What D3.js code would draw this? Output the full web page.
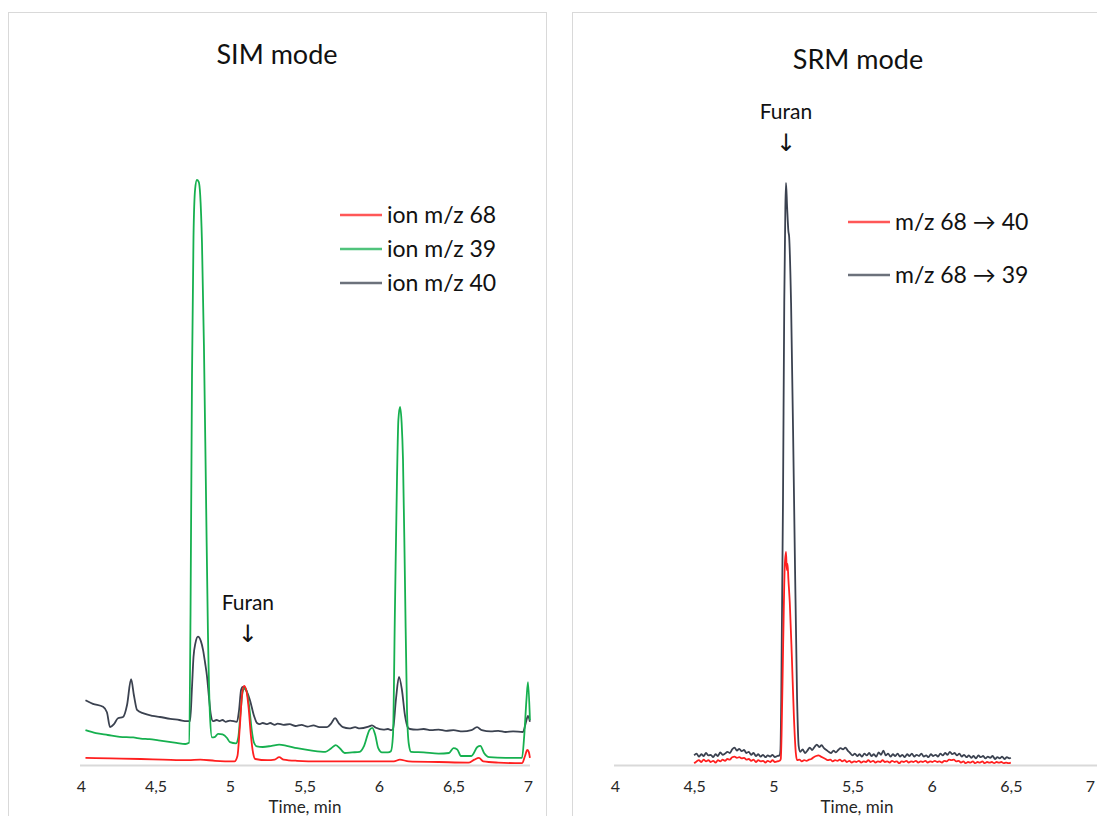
<!DOCTYPE html>
<html>
<head>
<meta charset="utf-8">
<script src="https://cdn.jsdelivr.net/npm/d3@7"></script>
<style>
  html, body { margin: 0; padding: 0; background: #fff; }
  svg { display: block; font-family: Lato, "Open Sans", sans-serif; }
</style>
</head>
<body>
<svg id="chart" width="1097" height="816"></svg>
<script>
// ---------------- DATA ----------------
const xTicks = [4, 4.5, 5, 5.5, 6, 6.5, 7];
const xTickLabels = ["4", "4,5", "5", "5,5", "6", "6,5", "7"];
const xAxisTitle = "Time, min";
const panelTitles = ["SIM mode", "SRM mode"];
const simLegend = ["ion m/z 68", "ion m/z 39", "ion m/z 40"];
const srmLegend = ["m/z 68 \u2192 40", "m/z 68 \u2192 39"];
const annotationText = "Furan";
const furanTime = [5.12, 5.08];

// SIM mode: [time (min), relative intensity]
const simIon68 = [
  [4.03,1.2],[4.20,1.1],[4.40,1.0],[4.55,0.9],[4.72,0.8],[4.80,0.9],[4.90,0.7],[5.03,0.6],
  [5.05,1.5],[5.065,6],[5.08,11.5],[5.094,13.2],[5.11,12.4],[5.125,9.5],[5.14,5],[5.155,2],
  [5.17,1.0],[5.25,0.8],[5.30,0.9],[5.33,1.3],[5.36,0.9],[5.45,0.7],[5.60,0.6],[5.80,0.6],
  [6.00,0.6],[6.10,0.6],[6.14,0.9],[6.20,0.6],[6.40,0.5],[6.60,0.4],[6.64,0.9],[6.67,1.2],
  [6.70,0.6],[6.80,0.4],[6.96,0.3],[6.98,1.5],[6.995,2.5],[7.005,2.2],[7.013,1.2]
];
const simIon39 = [
  [4.03,5.8],[4.10,5.3],[4.18,5.0],[4.26,4.7],[4.35,4.6],[4.40,4.4],[4.46,4.3],[4.52,4.1],
  [4.58,3.9],[4.64,3.7],[4.70,3.5],[4.725,3.7],[4.735,25],[4.745,65],[4.755,88],[4.766,96],
  [4.778,97.5],[4.790,97.2],[4.800,95],[4.812,87],[4.825,70],[4.839,45],[4.852,22],[4.866,8],
  [4.879,4.6],[4.90,4.7],[4.92,5.2],[4.95,5.1],[4.98,4.5],[5.00,3.8],[5.04,3.6],[5.055,4.5],
  [5.07,8.5],[5.085,12.2],[5.10,12.8],[5.115,12.0],[5.13,9.5],[5.145,6],[5.16,3.8],[5.18,3.1],
  [5.22,3.0],[5.28,3.2],[5.33,3.4],[5.38,3.2],[5.45,2.8],[5.55,2.4],[5.64,2.2],[5.68,2.8],
  [5.71,3.3],[5.74,2.7],[5.77,2.0],[5.82,2.1],[5.87,2.2],[5.90,3.2],[5.935,5.8],[5.955,6.2],
  [5.975,5.0],[5.995,2.8],[6.02,2.1],[6.06,2.1],[6.08,2.3],[6.094,5],[6.107,26],[6.121,48],
  [6.130,57.5],[6.141,59.7],[6.152,57],[6.161,51],[6.174,31],[6.188,9],[6.200,3.5],[6.215,2.2],
  [6.30,2.1],[6.40,1.9],[6.47,2.0],[6.50,2.8],[6.525,2.6],[6.55,1.5],[6.62,1.5],[6.66,3.0],
  [6.68,3.2],[6.705,2.0],[6.74,1.3],[6.85,1.2],[6.96,1.2],[6.975,5],[6.99,11],[7.00,13.8],
  [7.013,7.5]
];
const simIon40 = [
  [4.03,10.8],[4.08,10.2],[4.148,9.7],[4.174,8.8],[4.195,6.3],[4.221,6.8],[4.248,7.8],
  [4.282,8.0],[4.309,10],[4.336,14.3],[4.356,11.5],[4.376,9.2],[4.42,8.6],[4.48,8.2],
  [4.53,8.0],[4.60,7.7],[4.66,7.5],[4.711,7.3],[4.732,7.3],[4.745,13],[4.755,18],[4.768,20.3],
  [4.785,21.4],[4.805,20.6],[4.819,19.2],[4.833,17],[4.846,14.7],[4.858,11.5],[4.870,8.6],
  [4.886,7.3],[4.91,7.5],[4.93,7.3],[4.95,7.5],[4.97,7.2],[5.00,7.4],[5.047,7.2],[5.060,9],
  [5.075,12.6],[5.085,13],[5.107,12.5],[5.134,10.8],[5.161,8.2],[5.181,7.0],[5.20,6.8],
  [5.22,7.0],[5.25,6.8],[5.27,7.0],[5.30,6.7],[5.32,6.9],[5.36,6.7],[5.40,6.8],[5.44,6.5],
  [5.48,6.7],[5.52,6.4],[5.56,6.6],[5.60,6.3],[5.651,6.3],[5.678,6.9],[5.705,7.8],[5.732,6.9],
  [5.758,6.3],[5.80,6.1],[5.84,6.3],[5.87,6.1],[5.93,6.4],[5.953,6.6],[5.98,6.2],[6.03,5.9],
  [6.06,6.0],[6.08,5.8],[6.094,6.0],[6.114,11],[6.134,14.7],[6.154,12.5],[6.174,8.3],
  [6.195,6.2],[6.208,6.0],[6.25,5.9],[6.30,6.0],[6.35,5.8],[6.40,5.9],[6.45,5.7],[6.50,5.8],
  [6.56,5.6],[6.62,5.8],[6.658,6.3],[6.69,5.8],[6.75,5.6],[6.80,5.7],[6.85,5.5],[6.90,5.6],
  [6.966,5.5],[6.985,7],[7.00,8.2],[7.013,7.2]
];

// SRM mode: [time (min), relative intensity]
const srm68to40 = [
  [4.500,0.3],[4.515,0.6],[4.530,0.8],[4.545,0.5],[4.560,0.9],[4.575,0.6],[4.590,0.8],[4.605,0.5],
  [4.620,0.7],[4.635,0.4],[4.650,0.8],[4.665,0.6],[4.680,0.9],[4.695,0.7],[4.710,1.0],[4.725,0.9],
  [4.740,1.3],[4.755,1.4],[4.770,1.2],[4.785,1.3],[4.800,1.1],[4.815,1.2],[4.830,0.9],[4.845,1.0],
  [4.860,0.7],[4.875,0.9],[4.890,0.5],[4.905,0.8],[4.920,0.6],[4.935,0.7],[4.950,0.4],[4.965,0.7],
  [4.980,0.5],[4.995,0.8],[5.010,0.5],[5.025,0.6],[5.040,0.7],[5.047,1.0],[5.052,5],[5.062,20],
  [5.072,33],[5.080,35.5],[5.085,32.5],[5.090,33.5],[5.095,31],[5.104,27],[5.117,18],[5.130,8],
  [5.142,2],[5.150,0.8],[5.165,0.9],[5.180,0.6],[5.195,0.8],[5.210,0.7],[5.225,0.9],[5.240,1.0],
  [5.255,1.3],[5.270,1.5],[5.285,1.6],[5.300,1.4],[5.315,1.2],[5.330,1.0],[5.345,0.8],[5.360,0.9],
  [5.375,0.6],[5.390,0.8],[5.405,0.7],[5.420,0.9],[5.435,0.6],[5.450,0.8],[5.465,0.5],[5.480,0.7],
  [5.495,0.4],[5.510,0.6],[5.525,0.5],[5.540,0.7],[5.555,0.4],[5.570,0.6],[5.585,0.5],[5.600,0.8],
  [5.615,0.5],[5.630,0.7],[5.645,0.4],[5.660,0.6],[5.675,0.5],[5.690,0.8],[5.705,0.5],[5.720,0.6],
  [5.735,0.4],[5.750,0.7],[5.765,0.5],[5.780,0.6],[5.795,0.3],[5.810,0.6],[5.825,0.5],[5.840,0.7],
  [5.855,0.4],[5.870,0.6],[5.885,0.5],[5.900,0.7],[5.915,0.4],[5.930,0.6],[5.945,0.5],[5.960,0.7],
  [5.975,0.4],[5.990,0.6],[6.005,0.5],[6.020,0.7],[6.035,0.5],[6.050,0.6],[6.065,0.4],[6.080,0.7],
  [6.095,0.6],[6.110,0.9],[6.125,0.8],[6.140,0.9],[6.155,0.6],[6.170,0.7],[6.185,0.4],[6.200,0.6],
  [6.215,0.3],[6.230,0.5],[6.245,0.4],[6.260,0.6],[6.275,0.3],[6.290,0.5],[6.305,0.4],[6.320,0.6],
  [6.335,0.3],[6.350,0.5],[6.365,0.4],[6.380,0.5],[6.395,0.3],[6.410,0.5],[6.425,0.4],[6.440,0.5],
  [6.455,0.3],[6.470,0.4],[6.485,0.3],[6.500,0.4]
];
const srm68to39 = [
  [4.500,1.6],[4.515,1.9],[4.530,1.4],[4.545,1.8],[4.560,1.5],[4.575,2.0],[4.590,1.6],[4.605,1.7],
  [4.620,1.3],[4.635,1.8],[4.650,1.5],[4.665,2.1],[4.680,1.7],[4.695,1.9],[4.710,2.2],[4.725,2.0],
  [4.740,2.6],[4.755,2.9],[4.770,2.4],[4.785,2.7],[4.800,2.3],[4.815,2.5],[4.830,2.0],[4.845,2.2],
  [4.860,1.7],[4.875,2.0],[4.890,1.5],[4.905,1.8],[4.920,1.4],[4.935,1.7],[4.950,1.3],[4.965,1.6],
  [4.980,1.4],[4.995,1.7],[5.010,1.3],[5.025,1.5],[5.040,1.6],[5.045,2.5],[5.050,11],[5.061,44],
  [5.069,77],[5.076,93],[5.080,97],[5.087,93],[5.095,89],[5.100,88],[5.112,77],[5.131,44],
  [5.150,11],[5.160,3.2],[5.170,2.2],[5.185,2.6],[5.200,2.0],[5.215,2.4],[5.230,2.9],[5.245,2.5],
  [5.260,3.0],[5.275,3.4],[5.290,3.0],[5.305,3.3],[5.320,2.8],[5.335,2.5],[5.350,2.2],[5.365,2.0],
  [5.380,2.4],[5.395,2.1],[5.410,2.5],[5.425,2.8],[5.440,2.6],[5.455,2.9],[5.470,2.4],[5.485,2.0],
  [5.500,1.6],[5.515,1.9],[5.530,1.5],[5.545,1.8],[5.560,1.4],[5.575,1.9],[5.590,1.6],[5.605,2.0],
  [5.620,1.5],[5.635,1.8],[5.650,1.4],[5.665,2.1],[5.680,1.7],[5.695,2.4],[5.710,1.6],[5.725,1.9],
  [5.740,1.4],[5.755,1.8],[5.770,1.5],[5.785,1.9],[5.800,1.4],[5.815,1.7],[5.830,1.3],[5.845,1.8],
  [5.860,1.5],[5.875,1.9],[5.890,1.4],[5.905,1.7],[5.920,1.5],[5.935,1.9],[5.950,1.4],[5.965,1.6],
  [5.980,1.3],[5.995,1.8],[6.010,1.5],[6.025,1.7],[6.040,1.4],[6.055,1.9],[6.070,1.6],[6.085,2.0],
  [6.100,1.7],[6.115,2.2],[6.130,1.8],[6.145,2.0],[6.160,1.6],[6.175,1.9],[6.190,1.4],[6.205,1.7],
  [6.220,1.3],[6.235,1.6],[6.250,1.2],[6.265,1.5],[6.280,1.1],[6.295,1.6],[6.310,1.3],[6.325,1.5],
  [6.340,1.1],[6.355,1.4],[6.370,1.2],[6.385,1.5],[6.400,1.0],[6.415,1.3],[6.430,1.1],[6.445,1.4],
  [6.460,1.0],[6.475,1.3],[6.490,1.1],[6.500,1.2]
];

// ---------------- DRAW ----------------
const COL_RED = "#ff1f1f", COL_GREEN = "#16b04f", COL_DARK = "#3b4250";
const svg = d3.select("#chart");

function panel(cfg) {
  const g = svg.append("g");
  // frame
  g.append("rect").attr("x", cfg.frame[0] + 0.5).attr("y", cfg.frame[1] + 0.5)
    .attr("width", cfg.frame[2]).attr("height", cfg.frame[3])
    .attr("fill", "none").attr("stroke", "#d9d9d9").attr("stroke-width", 1);

  const x = d3.scaleLinear().domain([4, 7]).range(cfg.xr);
  const y = d3.scaleLinear().domain([0, 100]).range([765, 165]);

  // axis line
  g.append("line").attr("x1", x(4) - 1).attr("x2", cfg.axisEnd)
    .attr("y1", y(0) + 0.5).attr("y2", y(0) + 0.5)
    .attr("stroke", "#d9d9d9").attr("stroke-width", 2);

  const ax = d3.axisBottom(x).tickValues(xTicks)
    .tickFormat((d, i) => xTickLabels[i]).tickSize(0).tickPadding(16);
  const axg = g.append("g").attr("transform", `translate(0,${y(0)})`).call(ax);
  axg.select(".domain").remove();
  axg.selectAll("text").attr("font-family", "Lato, sans-serif").attr("font-size", 16)
    .attr("fill", "#262626");

  g.append("text").attr("x", cfg.axisTitleX).attr("y", 813).attr("text-anchor", "middle")
    .attr("font-size", 17).attr("fill", "#262626").text(xAxisTitle);

  // title
  g.append("text").attr("x", cfg.titleX).attr("y", cfg.titleY).attr("text-anchor", "middle")
    .attr("font-size", 27).attr("fill", "#111").text(cfg.title);

  const line = d3.line().x(d => x(d[0])).y(d => y(d[1])).curve(d3.curveMonotoneX);
  cfg.series.forEach(s => {
    g.append("path").datum(s.data).attr("d", line).attr("fill", "none")
      .attr("stroke", s.color).attr("stroke-width", s.w || 1.8)
      .attr("stroke-linejoin", "round");
  });

  // legend
  cfg.legend.forEach((l, i) => {
    const ly = cfg.legY[i];
    g.append("line").attr("x1", cfg.legX).attr("x2", cfg.legX + 42)
      .attr("y1", ly).attr("y2", ly).attr("stroke", l.color).attr("stroke-width", 2.5)
      .attr("opacity", 0.75);
    g.append("text").attr("x", cfg.legX + 47).attr("y", ly).attr("dy", "0.35em")
      .attr("font-size", 23).attr("fill", "#111").text(l.label);
  });

  // Furan annotation
  const fx = x(cfg.furanT);
  g.append("text").attr("x", fx).attr("y", cfg.furanY).attr("text-anchor", "middle")
    .attr("font-size", 21).attr("fill", "#111").text(annotationText);
  g.append("text").attr("x", fx).attr("y", cfg.furanY + 32).attr("text-anchor", "middle")
    .attr("font-family", "DejaVu Sans, sans-serif")
    .attr("font-size", 24).attr("fill", "#111").text("\u2193");
}

panel({
  frame: [8, 12, 538, 830],
  xr: [81, 528], axisEnd: 530, axisTitleX: 305,
  title: panelTitles[0], titleX: 277, titleY: 64,
  series: [
    { data: simIon40, color: COL_DARK },
    { data: simIon39, color: COL_GREEN },
    { data: simIon68, color: COL_RED }
  ],
  legend: [
    { label: simLegend[0], color: COL_RED },
    { label: simLegend[1], color: COL_GREEN },
    { label: simLegend[2], color: COL_DARK }
  ],
  legX: 340, legY: [215, 249, 283],
  furanT: furanTime[0], furanY: 610
});

panel({
  frame: [572, 12, 600, 830],
  xr: [615, 1090], axisEnd: 1097, axisTitleX: 857,
  title: panelTitles[1], titleX: 858, titleY: 69,
  series: [
    { data: srm68to39, color: COL_DARK, w: 1.8 },
    { data: srm68to40, color: COL_RED, w: 1.8 }
  ],
  legend: [
    { label: srmLegend[0], color: COL_RED },
    { label: srmLegend[1], color: COL_DARK }
  ],
  legX: 848, legY: [222, 275],
  furanT: furanTime[1], furanY: 119
});
</script>
</body>
</html>
